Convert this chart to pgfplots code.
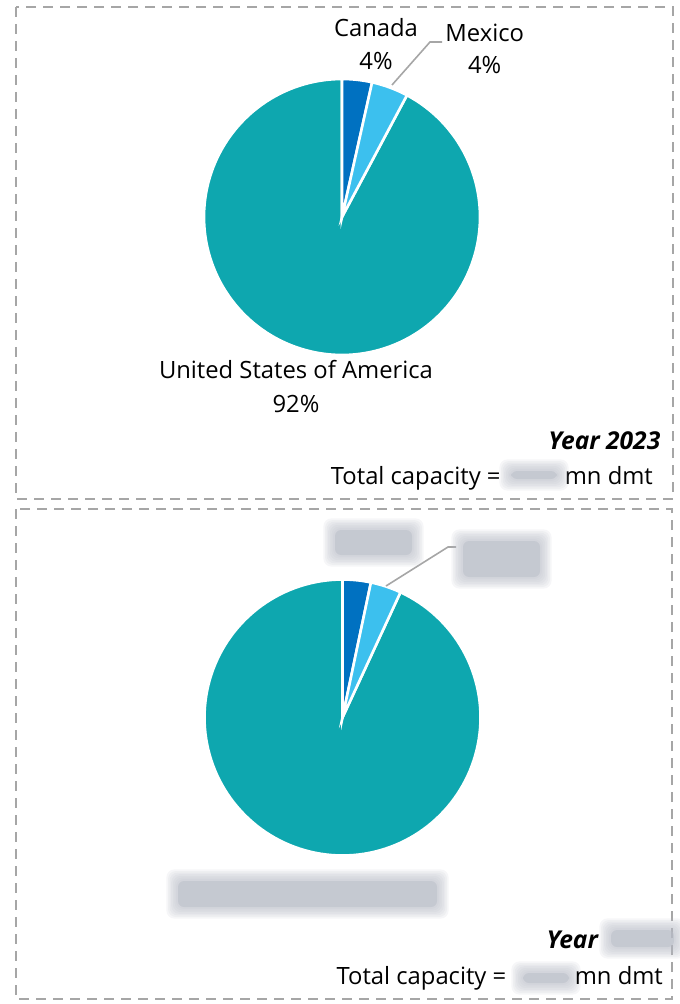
\documentclass[border=0pt]{standalone}
\usepackage{pgfplots}
\pgfplotsset{compat=1.18}
\usepackage{fontspec}
\setmainfont{Open Sans}
\definecolor{canc}{HTML}{0071C1}
\definecolor{mexc}{HTML}{3CC0EE}
\definecolor{usac}{HTML}{0EA7AF}
\definecolor{boxc}{HTML}{A6A6A6}
\definecolor{blurc}{HTML}{B8BCC6}
% shares in percent
\def\canA{3.5}\def\mexA{4.3}\def\usaA{92.2}
\def\canB{3.3}\def\mexB{3.6}\def\usaB{93.1}
\pgfmathsetmacro{\aA}{\canA*3.6}
\pgfmathsetmacro{\bA}{(\canA+\mexA)*3.6}
\pgfmathsetmacro{\aB}{\canB*3.6}
\pgfmathsetmacro{\bB}{(\canB+\mexB)*3.6}
\newcommand{\bl}[5]{\fill[blurc, opacity=0.13, rounded corners=4pt] ({#1-#5},{#2-#5}) rectangle ({#3+#5},{#4+#5});}
\newcommand{\blurbox}[4]{% x1 y1 x2 y2 (pixel coords)
  \bl{#1}{#2}{#3}{#4}{0}\bl{#1}{#2}{#3}{#4}{1.6}\bl{#1}{#2}{#3}{#4}{3.2}\bl{#1}{#2}{#3}{#4}{4.8}%
  \bl{#1}{#2}{#3}{#4}{6.4}\bl{#1}{#2}{#3}{#4}{8}\bl{#1}{#2}{#3}{#4}{9.6}%
  \fill[blurc, opacity=0.5, rounded corners=3pt] ({#1+2},{#2+2}) rectangle ({#3-2},{#4-2});
}
\newcommand{\tf}{\fontsize{11.9}{14}\selectfont}
\newcommand{\yf}{\fontsize{12.3}{14}\selectfont\bfseries\itshape}
\begin{document}
\begin{tikzpicture}
\begin{axis}[width=339.5pt,height=502pt,scale only axis,
  xmin=0,xmax=679,ymin=0,ymax=1004,y dir=reverse,hide axis,clip=false]
% ---------- boxes
\draw[boxc, line width=1.1pt, dash pattern=on 5pt off 3.5pt] (16,7) rectangle (673,499);
\draw[boxc, line width=1.1pt, dash pattern=on 5pt off 3.5pt] (16,509) rectangle (672,999);
% ---------- pie 1
\addplot[fill=usac, draw=white, line width=1.3pt, domain=\bA:360, samples=150, variable=\t]
  ({342+138*sin(\t)},{217-138*cos(\t)}) -- (342,217) -- cycle;
\addplot[fill=canc, draw=white, line width=1.3pt, domain=0:\aA, samples=20, variable=\t]
  ({342+138*sin(\t)},{217-138*cos(\t)}) -- (342,217) -- cycle;
\addplot[fill=mexc, draw=white, line width=1.3pt, domain=\aA:\bA, samples=20, variable=\t]
  ({342+138*sin(\t)},{217-138*cos(\t)}) -- (342,217) -- cycle;
\draw[boxc, line width=0.8pt] (392,85) -- (430,42) -- (442,42);
\node[font=\tf, anchor=base] at (376,36.7) {Canada};
\node[font=\tf, anchor=base] at (376,69.3) {4\%};
\node[font=\tf, anchor=base] at (484.7,41.7) {Mexico};
\node[font=\tf, anchor=base] at (484.7,74) {4\%};
\node[font=\tf, anchor=base] at (296,378.3) {United States of America};
\node[font=\tf, anchor=base] at (296,412.7) {92\%};
\node[font=\yf, anchor=base east, inner xsep=0pt] at (660.7,449.3) {Year 2023};
\node[font=\tf, anchor=base east, inner xsep=0pt] at (501,484) {Total capacity =};
\node[font=\tf, anchor=base east, inner xsep=0pt] at (653.3,484) {mn dmt};
\blurbox{509}{469}{559}{481}
% ---------- pie 2
\addplot[fill=usac, draw=white, line width=1.3pt, domain=\bB:360, samples=150, variable=\t]
  ({342.5+138*sin(\t)},{717.5-138*cos(\t)}) -- (342.5,717.5) -- cycle;
\addplot[fill=canc, draw=white, line width=1.3pt, domain=0:\aB, samples=20, variable=\t]
  ({342.5+138*sin(\t)},{717.5-138*cos(\t)}) -- (342.5,717.5) -- cycle;
\addplot[fill=mexc, draw=white, line width=1.3pt, domain=\aB:\bB, samples=20, variable=\t]
  ({342.5+138*sin(\t)},{717.5-138*cos(\t)}) -- (342.5,717.5) -- cycle;
\draw[boxc, line width=0.8pt] (386,586) -- (448,547) -- (456,547);
\blurbox{333}{528}{414}{557}
\blurbox{461}{539}{542}{579}
\blurbox{176}{879}{439}{909}
\node[font=\yf, anchor=base east, inner xsep=0pt] at (598.3,948.3) {Year};
\blurbox{609}{928}{676}{949}
\node[font=\tf, anchor=base east, inner xsep=0pt] at (506.7,984.3) {Total capacity =};
\blurbox{521}{971}{571}{985}
\node[font=\tf, anchor=base east, inner xsep=0pt] at (663.3,984.3) {mn dmt};
\end{axis}
\pgfresetboundingbox
\path (current axis.south west) rectangle (current axis.north east);
\end{tikzpicture}
\end{document}
